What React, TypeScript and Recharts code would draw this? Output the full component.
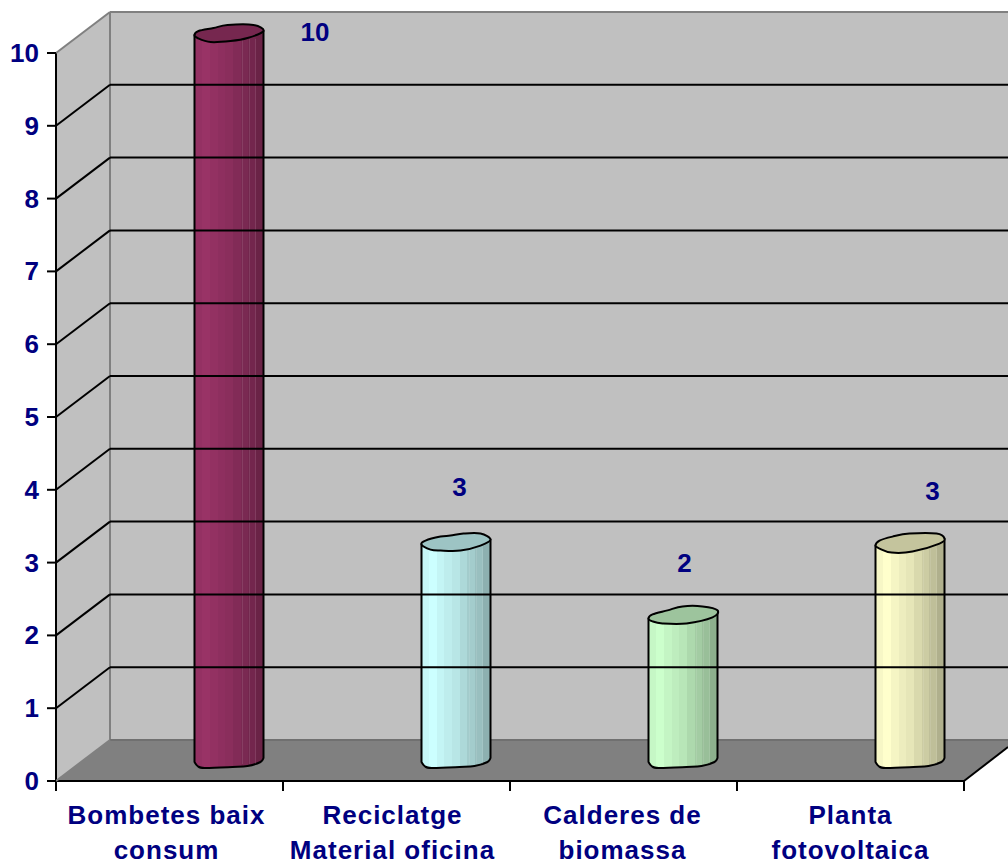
import React from 'react';
import { BarChart, Bar, XAxis, YAxis, LabelList } from 'recharts';

const categories = ['Bombetes baix|consum', 'Reciclatge|Material oficina', 'Calderes de|biomassa', 'Planta|fotovoltaica'];
const values = [10, 3, 2, 3];
const yTicks = [0, 1, 2, 3, 4, 5, 6, 7, 8, 9, 10];
const barColors = ['#993366', '#CCFFFF', '#CCFFCC', '#FFFFCC'];

const data = categories.map((name, i) => ({ name, value: values[i] }));

const NAVY = '#000080';
const FONT = '"Liberation Sans", Arial, sans-serif';
// fake 3d: how far the back wall sits from the front plane
const DEPTH_X = 54;
const DEPTH_Y = 41;
// the cylinders stand in the middle of the floor, off their category centre
const BAR_DX = 59.5;
const BAR_DY = -20;
const BAND = 227;
const AXIS_Y = 781;
// data labels do not sit straight above their bars in the original
const labelNudge = [[86, -1], [3.5, -56], [1.5, -52], [22.5, -52]];
const xLabelNudge = [-3, -4, -1, 0];

const bandShades = [0.97, 1, 0.96, 0.93, 0.9, 0.85, 0.8, 0.75, 0.69];

const shade = (hex: string, f: number) => {
  const n = parseInt(hex.slice(1), 16);
  const c = [(n >> 16) & 255, (n >> 8) & 255, n & 255].map(v => Math.round(v * f));
  return `rgb(${c[0]},${c[1]},${c[2]})`;
};

// catmull-rom through the traced points
const curve = (pts: number[][], ox: number, oy: number, closed: boolean) => {
  const n = pts.length;
  const at = (i: number) => (closed ? pts[(i + n) % n] : pts[Math.max(0, Math.min(n - 1, i))]);
  let d = '';
  const segs = closed ? n : n - 1;
  for (let i = 0; i < segs; i++) {
    const p0 = at(i - 1), p1 = at(i), p2 = at(i + 1), p3 = at(i + 2);
    const c1x = p1[0] + (p2[0] - p0[0]) / 6;
    const c1y = p1[1] + (p2[1] - p0[1]) / 6;
    const c2x = p2[0] - (p3[0] - p1[0]) / 6;
    const c2y = p2[1] - (p3[1] - p1[1]) / 6;
    d += ` C${ox + c1x},${oy + c1y} ${ox + c2x},${oy + c2y} ${ox + p2[0]},${oy + p2[1]}`;
  }
  return d;
};

// wobbly lid and foot outlines
const lidOutlines = [
  [[0, 2], [4, -2], [19, -5], [33, -8], [59, -8], [69, -2], [53, 5], [36, 8], [16, 9], [3, 5]],
  [[0, 2], [4, -2], [19, -6], [29, -7], [42, -9], [59, -9], [69, -3], [59, 3], [39, 8], [19, 8], [9, 7]],
  [[0, 3], [4, -1], [19, -5], [34, -9], [54, -9], [69, -5], [64, 2], [38, 8], [14, 8], [4, 6]],
  [[0, 3], [4, -2], [17, -6], [34, -9], [61, -9], [69, -4], [64, 1], [37, 9], [16, 10], [4, 6]],
];
const footEdge = [[0, 1], [3, 5], [10, 7], [38, 6], [53, 5], [66, 1], [69, -3]];
const seams = [48, 55, 61];

const Cylinder = (props: any) => {
  const { x, y, width, height, index } = props;
  const left = x + BAR_DX;
  const topY = y + BAR_DY;
  const bottomY = y + height + BAR_DY;
  const lid = lidOutlines[index];
  const rightY = lid.reduce((a, b) => (b[0] > a[0] ? b : a))[1];
  const body =
    `M${left},${topY + lid[0][1]} L${left},${bottomY + footEdge[0][1]}` +
    curve(footEdge, left, bottomY, false) +
    ` L${left + width},${topY + rightY} Z`;
  const lidPath = `M${left + lid[0][0]},${topY + lid[0][1]}` + curve(lid, left, topY, true) + ' Z';
  return (
    <g>
      <path d={body} fill={`url(#cyl${index})`} stroke="#000" strokeWidth={2} strokeLinejoin="round" />
      {seams.map(s => (
        <line key={s} x1={left + s} y1={topY + 6} x2={left + s} y2={bottomY + 3} stroke="#fff" strokeOpacity={0.1} />
      ))}
      <path d={lidPath} fill={shade(barColors[index], 0.77)} stroke="#000" strokeWidth={2} strokeLinejoin="round" />
    </g>
  );
};

const ValueLabel = (props: any) => {
  const { x, y, width, value, index } = props;
  const [nx, ny] = labelNudge[index];
  return (
    <text x={x + width / 2 + BAR_DX + nx} y={y + BAR_DY + ny} dy={9} textAnchor="middle" fontFamily={FONT} fontWeight="bold" fontSize={26} fill={NAVY}>
      {value}
    </text>
  );
};

const YTick = (props: any) => {
  const { y, payload } = props;
  const edge = payload.value === 0 || payload.value === 10;
  const col = edge ? '#808080' : '#000';
  return (
    <g>
      <line x1={56} y1={y} x2={56 + DEPTH_X} y2={y - DEPTH_Y} stroke={col} strokeWidth={2} />
      {payload.value !== 0 && <line x1={56 + DEPTH_X} y1={y - DEPTH_Y} x2={1008} y2={y - DEPTH_Y} stroke={col} strokeWidth={2} />}
      <line x1={47} y1={y} x2={56} y2={y} stroke="#000" strokeWidth={2} />
      <text x={39} y={y} dy={9} textAnchor="end" fontFamily={FONT} fontWeight="bold" fontSize={26} fill={NAVY}>
        {payload.value}
      </text>
    </g>
  );
};

const XTick = (props: any) => {
  const { x, payload, index } = props;
  const lines = String(payload.value).split('|');
  return (
    <g>
      <line x1={x - BAND / 2} y1={AXIS_Y} x2={x - BAND / 2} y2={AXIS_Y + 10} stroke="#000" strokeWidth={2} />
      {index === categories.length - 1 && <line x1={x + BAND / 2} y1={AXIS_Y} x2={x + BAND / 2} y2={AXIS_Y + 10} stroke="#000" strokeWidth={2} />}
      <text textAnchor="middle" fontFamily={FONT} fontWeight="bold" fontSize={26} fill={NAVY} letterSpacing={1}>
        {lines.map((l, i) => (
          <tspan key={i} x={x + xLabelNudge[index]} y={AXIS_Y + 43 + i * 35}>{l}</tspan>
        ))}
      </text>
    </g>
  );
};

export default function App() {
  return (
    <div style={{ position: 'absolute', left: 0, top: 0, width: 1008, height: 861, overflow: 'hidden', background: '#fff' }}>
      <BarChart width={1008} height={861} data={data} margin={{ top: 53, right: 44, bottom: 0, left: 0 }} barCategoryGap={0}>
        <defs>
          {barColors.map((c, i) => (
            <linearGradient key={c} id={`cyl${i}`} x1="0" y1="0" x2="1" y2="0">
              {bandShades.flatMap((f, k) => [
                <stop key={`${k}a`} offset={k / bandShades.length} stopColor={shade(c, f)} />,
                <stop key={`${k}b`} offset={(k + 1) / bandShades.length} stopColor={shade(c, f)} />,
              ])}
            </linearGradient>
          ))}
        </defs>
        {/* walls and floor */}
        <rect x={110} y={12} width={898} height={728} fill="#C0C0C0" />
        <polygon points="56,53 110,12 110,740 56,781" fill="#C0C0C0" />
        <polygon points="110,740 1008,740 1008,747 964,781 56,781" fill="#808080" />
        <line x1={110} y1={12} x2={110} y2={740} stroke="#808080" strokeWidth={2} />
        <line x1={110} y1={740} x2={1008} y2={740} stroke="#707070" strokeWidth={2} />
        <line x1={964} y1={781} x2={1008} y2={747} stroke="#000" strokeWidth={2} />
        <XAxis dataKey="name" interval={0} tickLine={false} axisLine={{ stroke: '#000', strokeWidth: 2 }} height={80} tick={<XTick />} />
        <YAxis type="number" domain={[0, 10]} ticks={yTicks} width={56} tickLine={false} axisLine={{ stroke: '#000', strokeWidth: 2 }} tick={<YTick />} />
        <Bar dataKey="value" barSize={69} isAnimationActive={false} shape={<Cylinder />}>
          <LabelList dataKey="value" content={<ValueLabel />} />
        </Bar>
      </BarChart>
    </div>
  );
}
